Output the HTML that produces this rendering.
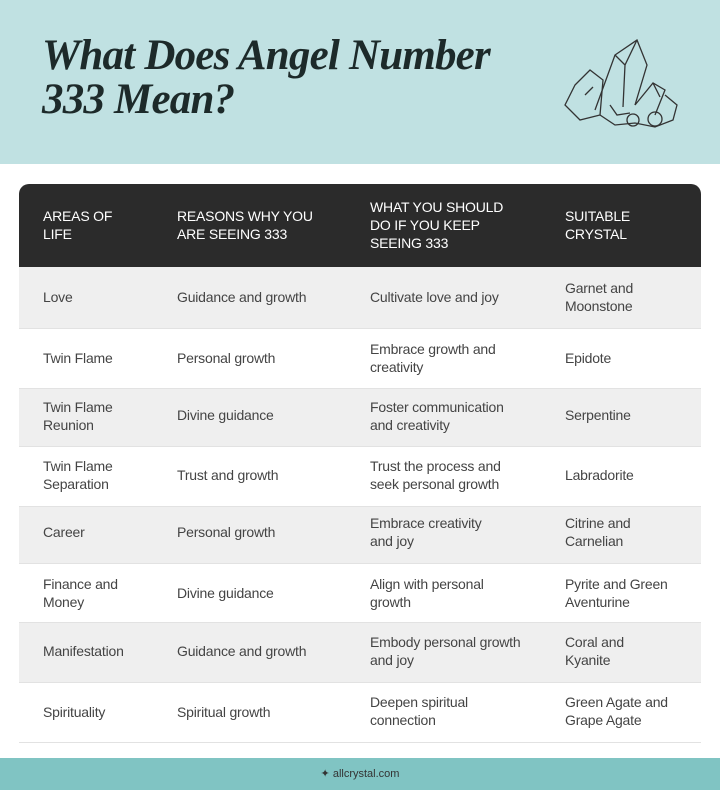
<!DOCTYPE html>
<html><head><style>
body{margin:0;width:720px;height:790px;background:#fff;position:relative;font-family:"Liberation Sans",sans-serif;overflow:hidden}
.hdr{position:absolute;left:0;top:0;width:720px;height:164px;background:#c0e1e2}
.t{position:absolute;left:42px;top:34px;font-family:"Liberation Serif",serif;font-style:italic;font-weight:bold;font-size:43px;line-height:44px;color:#1d2a2a;letter-spacing:-0.8px}
.th{position:absolute;left:19px;top:184px;width:682px;height:83px;background:#2b2b2b;border-radius:10px 10px 0 0}
.c{position:absolute;font-size:14px;line-height:18px;color:#444;letter-spacing:-0.2px}
.h{color:#fff;font-size:14px}
.row{position:absolute;left:19px;width:682px;border-bottom:1px solid #e2e2e2}
.g{background:#efefef}
.ft{position:absolute;left:0;top:758px;width:720px;height:32px;background:#80c4c3;text-align:center;font-size:11px;line-height:32px;color:#333}
</style></head><body>
<div class="hdr"></div>
<div class="t">What Does Angel Number<br>333 Mean?</div>
<svg style="position:absolute;left:555px;top:35px" width="130" height="100" viewBox="0 0 130 100" fill="none" stroke="#333" stroke-width="1.3">
<path d="M40 75 L60 20 L82 5 L92 30 L80 70"/><path d="M60 20 L70 30 L82 5 M70 30 L68 72"/>
<path d="M80 70 L98 48 L110 55 L100 80"/><path d="M98 48 L105 62"/>
<path d="M20 50 L35 35 L48 45 L45 80 L25 85 L10 70 Z"/>
<path d="M45 80 L60 90 L80 88 L100 92 L118 85 L122 70 L110 60"/>
<path d="M30 60 L38 52 M55 70 L62 80 L75 78"/>
<circle cx="78" cy="85" r="6"/><circle cx="100" cy="84" r="7"/>
</svg>
<div class="th"></div>
<div class="c h" style="left:43px;top:207px">AREAS OF<br>LIFE</div>
<div class="c h" style="left:177px;top:207px">REASONS WHY YOU<br>ARE SEEING 333</div>
<div class="c h" style="left:370px;top:198px">WHAT YOU SHOULD<br>DO IF YOU KEEP<br>SEEING 333</div>
<div class="c h" style="left:565px;top:207px">SUITABLE<br>CRYSTAL</div>

<div class="row g" style="top:267px;height:61px"></div>
<div class="row" style="top:329px;height:59px"></div>
<div class="row g" style="top:389px;height:57px"></div>
<div class="row" style="top:447px;height:59px"></div>
<div class="row g" style="top:507px;height:56px"></div>
<div class="row" style="top:564px;height:58px"></div>
<div class="row g" style="top:623px;height:59px"></div>
<div class="row" style="top:683px;height:59px"></div>

<div class="c" style="left:43px;top:288px">Love</div>
<div class="c" style="left:177px;top:288px">Guidance and growth</div>
<div class="c" style="left:370px;top:288px">Cultivate love and joy</div>
<div class="c" style="left:565px;top:279px">Garnet and<br>Moonstone</div>

<div class="c" style="left:43px;top:349px">Twin Flame</div>
<div class="c" style="left:177px;top:349px">Personal growth</div>
<div class="c" style="left:370px;top:340px">Embrace growth and<br>creativity</div>
<div class="c" style="left:565px;top:349px">Epidote</div>

<div class="c" style="left:43px;top:398px">Twin Flame<br>Reunion</div>
<div class="c" style="left:177px;top:406px">Divine guidance</div>
<div class="c" style="left:370px;top:398px">Foster communication<br>and creativity</div>
<div class="c" style="left:565px;top:406px">Serpentine</div>

<div class="c" style="left:43px;top:457px">Twin Flame<br>Separation</div>
<div class="c" style="left:177px;top:466px">Trust and growth</div>
<div class="c" style="left:370px;top:457px">Trust the process and<br>seek personal growth</div>
<div class="c" style="left:565px;top:466px">Labradorite</div>

<div class="c" style="left:43px;top:523px">Career</div>
<div class="c" style="left:177px;top:523px">Personal growth</div>
<div class="c" style="left:370px;top:514px">Embrace creativity<br>and joy</div>
<div class="c" style="left:565px;top:514px">Citrine and<br>Carnelian</div>

<div class="c" style="left:43px;top:575px">Finance and<br>Money</div>
<div class="c" style="left:177px;top:584px">Divine guidance</div>
<div class="c" style="left:370px;top:575px">Align with personal<br>growth</div>
<div class="c" style="left:565px;top:575px">Pyrite and Green<br>Aventurine</div>

<div class="c" style="left:43px;top:642px">Manifestation</div>
<div class="c" style="left:177px;top:642px">Guidance and growth</div>
<div class="c" style="left:370px;top:633px">Embody personal growth<br>and joy</div>
<div class="c" style="left:565px;top:633px">Coral and<br>Kyanite</div>

<div class="c" style="left:43px;top:703px">Spirituality</div>
<div class="c" style="left:177px;top:703px">Spiritual growth</div>
<div class="c" style="left:370px;top:693px">Deepen spiritual<br>connection</div>
<div class="c" style="left:565px;top:693px">Green Agate and<br>Grape Agate</div>

<div class="ft">✦ allcrystal.com</div>
</body></html>
